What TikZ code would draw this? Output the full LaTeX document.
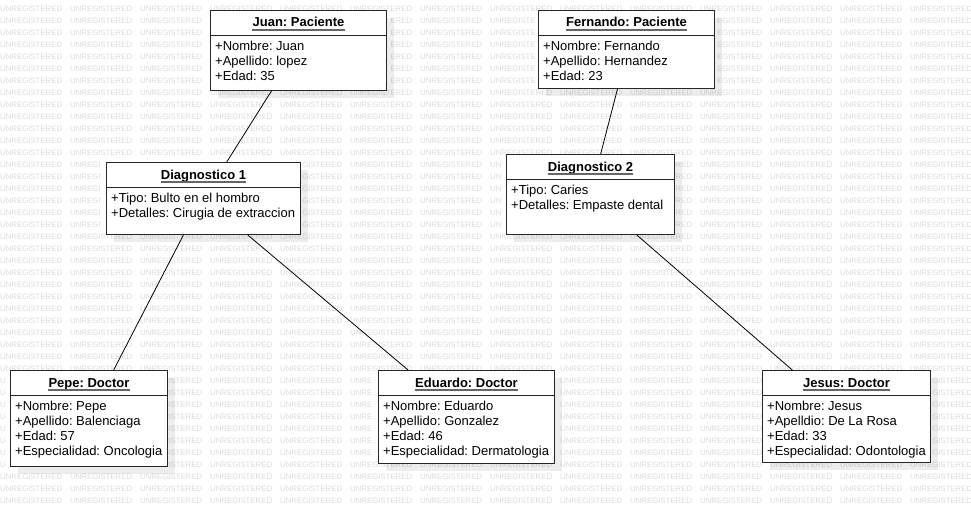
\documentclass[tikz,border=0pt]{standalone}
\usepackage{fontspec}
\setmainfont{Liberation Sans}
\usetikzlibrary{calc,shadows}
\frenchspacing
\tikzset{
  objbox/.style={draw=black!85, line width=1pt, fill=white, anchor=north west, inner sep=0pt,
    drop shadow={shadow xshift=7pt, shadow yshift=-7pt, fill=black, opacity=0.07}},
  titletext/.style={anchor=base, inner sep=0pt, font=\fontsize{13}{15}\selectfont\bfseries},
  attrtext/.style={anchor=base west, inner sep=0pt, font=\fontsize{13}{15}\selectfont},
  uline/.style={draw=black!60, line width=2pt},
  sepline/.style={draw=black!85, line width=1pt},
  conn/.style={draw=black, line width=0.8pt},
  wm/.style={anchor=west, inner sep=0pt, text=black!14, font=\fontsize{7.8}{8}\selectfont}
}
\newcommand\objbox[7]{%
  \node[objbox, minimum width=#4pt, minimum height=#5pt] (#1) at (#2,#3) {};
  \node[titletext] (#1-t) at ($(#1.north)+(0,17)$) {#6};
  \draw[uline] ([yshift=-3pt]#1-t.base west) -- ([yshift=-3pt]#1-t.base east);
  \draw[sepline] ([yshift=-25pt]#1.north west) -- ([yshift=-25pt]#1.north east);
  \foreach \txt [count=\i] in {#7} {
    \node[attrtext] (#1-a\i) at ([xshift=5pt, yshift={-25pt-15pt*\i}]#1.north west) {\txt};
  }
}
\newcommand\wmboxes{210/10/386/90,538/10/714/88,106/162/300/234,506/154/674/234,10/370/167/466,378/370/554/463,762/370/930/462}
\newcommand\wmchars{0/5.63,5.63/11.26,11.26/16.89,16.89/22.09,22.09/28.16,28.16/30.33,30.33/35.53,35.53/40.30,40.30/45.50,45.50/51.13,51.13/56.33,56.33/61.96}
\newcommand\wmpre[1]{\ifcase#1\relax\or U\or UN\or UNR\or UNRE\or UNREG\or UNREGI\or UNREGIS\or UNREGIST\or UNREGISTE\or UNREGISTER\or UNREGISTERE\or UNREGISTERED\fi}
\newcommand\wmsuf[1]{\ifcase#1\relax UNREGISTERED\or NREGISTERED\or REGISTERED\or EGISTERED\or GISTERED\or ISTERED\or STERED\or TERED\or ERED\or RED\or ED\or D\or\fi}
\begin{document}
\begin{tikzpicture}[x=1pt,y=-1pt]
\useasboundingbox (0,0) rectangle (971,506);
\fill[white] (0,0) rectangle (971,506);
% watermark: words (or the parts of words) that the boxes do not hide
\foreach \r in {0,...,41} {
  \foreach \c in {0,...,13} {
    \pgfmathsetmacro\wx{70*\c}
    \pgfmathsetmacro\wy{9+12*\r}
    \gdef\wmhit{0}
    \foreach \ba/\bb/\bc/\bd in \wmboxes {
      \pgfmathparse{((\wx<\bc) && (\wx+62>\ba) && (\wy+1>\bb) && (\wy-1<\bd)) ? 1 : 0}
      \ifdim\pgfmathresult pt>0.5pt \gdef\wmhit{1}\xdef\wmL{\ba}\xdef\wmR{\bc}\fi
    }
    \ifnum\wmhit=0
      \node[wm] (wm-\r-\c) at (\wx, \wy) {UNREGISTERED};
    \else
      \gdef\wmn{0}\gdef\wmm{0}\gdef\wmoff{0}
      \foreach \cs/\ce [count=\k] in \wmchars {
        \pgfmathparse{(\ce <= \wmL-\wx-1) ? 1 : 0}
        \ifdim\pgfmathresult pt>0.5pt \xdef\wmn{\k}\fi
        \pgfmathparse{(\cs < \wmR-\wx+1) ? 1 : 0}
        \ifdim\pgfmathresult pt>0.5pt \xdef\wmm{\k}\xdef\wmoff{\ce}\fi
      }
      \ifnum\wmn>0
        \node[wm] (wmL-\r-\c) at (\wx, \wy) {\wmpre{\wmn}};
      \fi
      \ifnum\wmm<12
        \node[wm] (wmR-\r-\c) at (\wx+\wmoff, \wy) {\wmsuf{\wmm}};
      \fi
    \fi
  }
}
% objects
\objbox{juan}{210}{10}{176}{80}{Juan: Paciente}{+Nombre: Juan, +Apellido: lopez, +Edad: 35}
\objbox{fer}{538}{10}{176}{78}{Fernando: Paciente}{+Nombre: Fernando, +Apellido: Hernandez, +Edad: 23}
\objbox{d1}{106}{162}{194}{72}{Diagnostico 1}{+Tipo: Bulto en el hombro, +Detalles: Cirugia de extraccion}
\objbox{d2}{506}{154}{168}{80}{Diagnostico 2}{+Tipo: Caries, +Detalles: Empaste dental}
\objbox{pepe}{10}{370}{157}{96}{Pepe: Doctor}{+Nombre: Pepe, +Apellido: Balenciaga, +Edad: 57, +Especialidad: Oncologia}
\objbox{edu}{378}{370}{176}{93}{Eduardo: Doctor}{+Nombre: Eduardo, +Apellido: Gonzalez, +Edad: 46, +Especialidad: Dermatologia}
\objbox{jesus}{762}{370}{168}{92}{Jesus: Doctor}{+Nombre: Jesus, +Apelldio: De La Rosa, +Edad: 33, +Especialidad: Odontologia}
% connectors
\draw[conn] ($(juan.south west)!0.347!(juan.south east)$) -- ($(d1.north west)!0.619!(d1.north east)$);
\draw[conn] ($(fer.south west)!0.449!(fer.south east)$) -- ($(d2.north west)!0.560!(d2.north east)$);
\draw[conn] ($(d1.south west)!0.397!(d1.south east)$) -- ($(pepe.north west)!0.656!(pepe.north east)$);
\draw[conn] ($(d1.south west)!0.727!(d1.south east)$) -- ($(edu.north west)!0.170!(edu.north east)$);
\draw[conn] ($(d2.south west)!0.774!(d2.south east)$) -- ($(jesus.north west)!0.179!(jesus.north east)$);
\end{tikzpicture}
\end{document}
